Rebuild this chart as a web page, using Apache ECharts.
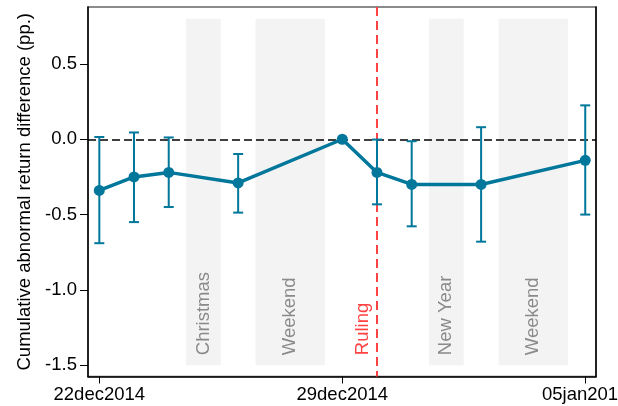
<!DOCTYPE html>
<html>
<head>
<meta charset="utf-8">
<script src="https://cdn.jsdelivr.net/npm/echarts@6/dist/echarts.min.js"></script>
<style>
  html, body { margin: 0; padding: 0; background: #fff; }
  #chart { width: 618px; height: 406px; }
</style>
</head>
<body>
<div id="chart"></div>
<script>
// Trading days around the ruling and the estimated effect with 95% CI
const eventDates = ['2014-12-22', '2014-12-23', '2014-12-24', '2014-12-26', '2014-12-29',
                    '2014-12-30', '2014-12-31', '2015-01-02', '2015-01-05'];
const estimates  = [-0.34, -0.25, -0.22, -0.29, 0.00, -0.22, -0.30, -0.30, -0.14];
const ciUpper    = [0.015, 0.045, 0.012, -0.098, null, -0.002, -0.013, 0.08, 0.225];
const ciLower    = [-0.69, -0.55, -0.45, -0.487, null, -0.432, -0.578, -0.68, -0.50];

// Non-trading periods (shaded) and the ruling date
const closedStart = ['2014-12-25', '2014-12-27', '2015-01-01', '2015-01-03'];
const closedEnd   = ['2014-12-25', '2014-12-28', '2015-01-01', '2015-01-04'];
const closedNames = ['Christmas', 'Weekend', 'New Year', 'Weekend'];
const rulingDate  = '2014-12-30';
const rulingName  = 'Ruling';

// Axis labels
const xTickDates = ['2014-12-22', '2014-12-29', '2015-01-05'];
const yTicks     = [-1.5, -1.0, -0.5, 0.0, 0.5];

const DAY = 86400000;
const origin = Date.parse(eventDates[0]);
const dayOf = s => Math.round((Date.parse(s) - origin) / DAY);
const months = ['jan','feb','mar','apr','may','jun','jul','aug','sep','oct','nov','dec'];
function stataDate(d) {
  const t = new Date(origin + d * DAY);
  const dd = String(t.getUTCDate()).padStart(2, '0');
  return dd + months[t.getUTCMonth()] + t.getUTCFullYear();
}

const teal = '#00779b';
const red = '#ff4242';
const font = '"Liberation Sans", Arial, sans-serif';
const fs = 18.5;
const yMin = -1.575, yMax = 0.878;

const pointData = eventDates.map((d, i) => [dayOf(d), estimates[i]]);
const ciData = eventDates.map((d, i) => [dayOf(d), ciLower[i], ciUpper[i]])
                         .filter(r => r[1] !== null);
const bandData = closedStart.map((s, i) => [dayOf(s) - 0.5, dayOf(closedEnd[i]) + 0.5, closedNames[i]]);

const chart = echarts.init(document.getElementById('chart'), null, { renderer: 'canvas' });

chart.setOption({
  animation: false,
  backgroundColor: '#fff',
  grid: {
    left: 88, top: 7, right: 22, bottom: 29.5,
    outerBoundsMode: 'none',
    containLabel: false,
    show: true, borderColor: '#666', borderWidth: 1.5, backgroundColor: 'transparent'
  },
  xAxis: {
    type: 'value',
    min: -0.326, max: 14.31,
    axisLine: { show: true, onZero: false, lineStyle: { color: '#000', width: 1.5 } },
    axisTick: { show: true, length: 7, lineStyle: { color: '#000', width: 1 },
                customValues: xTickDates.map(dayOf) },
    axisLabel: { customValues: xTickDates.map(dayOf), formatter: v => stataDate(v),
                 color: '#000', fontSize: fs, fontFamily: font, margin: 9,
                 showMinLabel: true, showMaxLabel: true, hideOverlap: false },
    splitLine: { show: false }
  },
  yAxis: [
    {
      type: 'value',
      min: yMin, max: yMax,
      name: 'Cumulative abnormal return difference (pp.)',
      nameLocation: 'middle', nameGap: 54,
      nameTextStyle: { color: '#000', fontSize: fs, fontFamily: font },
      axisLine: { show: true, onZero: false, lineStyle: { color: '#000', width: 1.5 } },
      axisTick: { show: true, length: 8, lineStyle: { color: '#000', width: 1 },
                  customValues: yTicks },
      axisLabel: { customValues: yTicks, formatter: v => v.toFixed(1),
                   color: '#000', fontSize: fs, fontFamily: font, margin: 11 },
      splitLine: { show: false }
    },
    {
      // plain right-hand frame edge
      type: 'value',
      position: 'right',
      min: yMin, max: yMax,
      axisLine: { show: true, onZero: false, lineStyle: { color: '#000', width: 1.5 } },
      axisTick: { show: false },
      axisLabel: { show: false },
      splitLine: { show: false }
    }
  ],
  series: [
    {
      // shaded non-trading periods with their names
      type: 'custom',
      z: 1,
      silent: true,
      data: bandData,
      renderItem: (params, api) => {
        const x0 = api.coord([api.value(0), 0.8]);
        const x1 = api.coord([api.value(1), -1.5]);
        const cx = (x0[0] + x1[0]) / 2;
        return {
          type: 'group',
          children: [
            { type: 'rect', shape: { x: x0[0], y: x0[1], width: x1[0] - x0[0], height: x1[1] - x0[1] },
              style: { fill: '#f3f3f3' } },
            { type: 'text', x: cx, y: x1[1] - 10, rotation: Math.PI / 2,
              style: { text: bandData[params.dataIndex][2], fill: '#8a8a8a',
                       font: fs + 'px ' + font, align: 'left', verticalAlign: 'middle' } }
          ]
        };
      }
    },
    {
      // ruling date marker
      type: 'custom',
      z: 3,
      silent: true,
      data: [[dayOf(rulingDate)]],
      renderItem: (params, api) => {
        const top = api.coord([api.value(0), yMax]);
        const bot = api.coord([api.value(0), yMin]);
        return {
          type: 'group',
          children: [
            { type: 'line', shape: { x1: top[0], y1: top[1], x2: bot[0], y2: bot[1] },
              style: { stroke: red, lineWidth: 2, lineDash: [9, 5] } },
            { type: 'text', x: top[0] - 14, y: api.coord([0, -1.5])[1] - 10, rotation: Math.PI / 2,
              style: { text: rulingName, fill: red, font: fs + 'px ' + font,
                       align: 'left', verticalAlign: 'middle' } }
          ]
        };
      }
    },
    {
      // 95% confidence intervals
      type: 'custom',
      z: 4,
      silent: true,
      data: ciData,
      renderItem: (params, api) => {
        const lo = api.coord([api.value(0), api.value(1)]);
        const hi = api.coord([api.value(0), api.value(2)]);
        const w = 5;
        const st = { stroke: teal, lineWidth: 2 };
        return {
          type: 'group',
          children: [
            { type: 'line', shape: { x1: lo[0], y1: lo[1], x2: hi[0], y2: hi[1] }, style: st },
            { type: 'line', shape: { x1: lo[0] - w, y1: lo[1], x2: lo[0] + w, y2: lo[1] }, style: st },
            { type: 'line', shape: { x1: hi[0] - w, y1: hi[1], x2: hi[0] + w, y2: hi[1] }, style: st }
          ]
        };
      }
    },
    {
      // point estimates
      type: 'line',
      z: 5,
      data: pointData,
      symbol: 'circle',
      symbolSize: 11,
      showSymbol: true,
      lineStyle: { color: teal, width: 3.5 },
      itemStyle: { color: teal },
      markLine: {
        silent: true,
        symbol: 'none',
        z: 2,
        label: { show: false },
        lineStyle: { color: '#000', type: [8, 4], width: 1.5 },
        data: [{ yAxis: 0 }]
      }
    }
  ]
});
</script>
</body>
</html>
